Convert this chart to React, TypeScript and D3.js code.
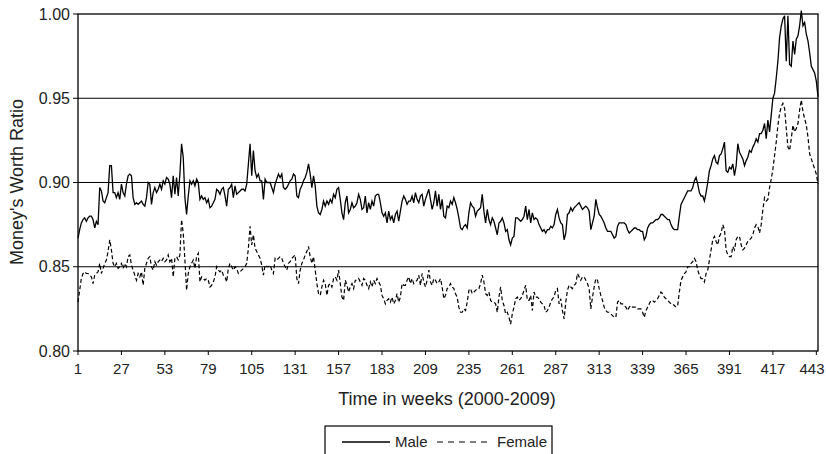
import React from 'react';
import * as d3 from 'd3';

// Money's worth ratio, weekly (weeks 1..444)
const male: number[] = [
  0.867,0.872,0.876,0.878,0.879,0.877,0.879,0.880,0.880,0.878,
  0.873,0.877,0.875,0.897,0.895,0.889,0.888,0.891,0.894,0.910,
  0.910,0.894,0.894,0.891,0.894,0.890,0.899,0.894,0.892,0.899,
  0.904,0.905,0.904,0.891,0.887,0.888,0.887,0.888,0.889,0.887,
  0.886,0.891,0.900,0.899,0.887,0.894,0.897,0.894,0.896,0.899,
  0.896,0.901,0.899,0.903,0.902,0.899,0.891,0.904,0.893,0.903,
  0.892,0.905,0.923,0.915,0.891,0.881,0.892,0.901,0.899,0.901,
  0.898,0.902,0.900,0.890,0.892,0.890,0.891,0.888,0.890,0.885,
  0.886,0.888,0.890,0.896,0.895,0.893,0.896,0.897,0.892,0.886,
  0.896,0.897,0.899,0.891,0.898,0.893,0.894,0.895,0.896,0.896,
  0.895,0.899,0.911,0.923,0.904,0.919,0.907,0.903,0.905,0.901,
  0.901,0.890,0.902,0.900,0.900,0.900,0.897,0.894,0.899,0.902,
  0.905,0.903,0.905,0.897,0.896,0.897,0.899,0.901,0.902,0.905,
  0.904,0.892,0.891,0.896,0.898,0.901,0.903,0.906,0.911,0.905,
  0.897,0.904,0.898,0.886,0.882,0.881,0.884,0.889,0.886,0.889,
  0.887,0.890,0.888,0.893,0.891,0.896,0.897,0.890,0.882,0.878,
  0.888,0.892,0.882,0.884,0.888,0.885,0.886,0.888,0.893,0.890,
  0.884,0.885,0.892,0.882,0.888,0.884,0.889,0.886,0.892,0.893,
  0.893,0.888,0.882,0.880,0.882,0.876,0.883,0.878,0.880,0.876,
  0.881,0.883,0.877,0.883,0.889,0.892,0.890,0.887,0.889,0.889,
  0.892,0.888,0.894,0.890,0.888,0.892,0.893,0.886,0.890,0.893,
  0.896,0.890,0.884,0.888,0.895,0.886,0.893,0.884,0.890,0.880,
  0.879,0.886,0.885,0.889,0.887,0.891,0.888,0.884,0.879,0.873,
  0.872,0.874,0.875,0.873,0.882,0.888,0.886,0.885,0.880,0.883,
  0.884,0.885,0.893,0.883,0.876,0.884,0.878,0.875,0.879,0.877,
  0.873,0.869,0.876,0.877,0.879,0.876,0.871,0.872,0.866,0.863,
  0.867,0.868,0.879,0.879,0.878,0.877,0.878,0.880,0.886,0.878,
  0.884,0.876,0.882,0.878,0.879,0.878,0.875,0.873,0.871,0.872,
  0.870,0.872,0.872,0.874,0.873,0.875,0.881,0.884,0.879,0.876,
  0.875,0.866,0.870,0.881,0.882,0.885,0.883,0.885,0.886,0.887,
  0.888,0.886,0.884,0.885,0.886,0.885,0.883,0.872,0.876,0.880,
  0.890,0.885,0.881,0.880,0.878,0.876,0.873,0.871,0.871,0.871,
  0.869,0.867,0.868,0.874,0.876,0.876,0.876,0.876,0.875,0.872,
  0.870,0.871,0.872,0.873,0.873,0.872,0.872,0.871,0.871,0.866,
  0.868,0.873,0.875,0.876,0.876,0.877,0.878,0.878,0.879,0.881,
  0.881,0.880,0.879,0.878,0.878,0.875,0.873,0.872,0.872,0.872,
  0.880,0.887,0.889,0.891,0.893,0.895,0.895,0.895,0.897,0.901,
  0.903,0.899,0.894,0.892,0.892,0.889,0.894,0.900,0.907,0.910,
  0.914,0.916,0.912,0.911,0.916,0.917,0.920,0.924,0.907,0.906,
  0.909,0.908,0.911,0.904,0.910,0.923,0.918,0.916,0.914,0.910,
  0.913,0.915,0.919,0.918,0.921,0.923,0.926,0.924,0.929,0.929,
  0.931,0.935,0.926,0.937,0.930,0.940,0.950,0.953,0.962,0.972,
  0.986,0.993,0.997,0.999,0.972,0.999,0.970,0.969,0.984,0.976,
  0.985,0.987,0.993,1.002,0.993,0.995,0.988,0.984,0.977,0.969,
  0.967,0.965,0.960,0.951
];

const female: number[] = [
  0.829,0.836,0.843,0.846,0.847,0.846,0.846,0.845,0.844,0.840,
  0.845,0.846,0.847,0.852,0.846,0.849,0.852,0.854,0.859,0.866,
  0.860,0.852,0.850,0.852,0.849,0.850,0.852,0.849,0.852,0.850,
  0.856,0.857,0.851,0.848,0.845,0.842,0.846,0.844,0.847,0.839,
  0.849,0.852,0.855,0.856,0.850,0.848,0.853,0.851,0.853,0.854,
  0.853,0.855,0.853,0.854,0.857,0.853,0.855,0.844,0.855,0.856,
  0.854,0.857,0.878,0.870,0.854,0.836,0.846,0.850,0.852,0.854,
  0.849,0.856,0.858,0.841,0.844,0.843,0.842,0.843,0.842,0.838,
  0.839,0.841,0.844,0.850,0.848,0.847,0.848,0.845,0.844,0.841,
  0.849,0.852,0.850,0.848,0.850,0.849,0.846,0.847,0.848,0.849,
  0.850,0.852,0.861,0.874,0.863,0.869,0.861,0.859,0.857,0.855,
  0.851,0.845,0.851,0.850,0.850,0.851,0.848,0.846,0.855,0.854,
  0.855,0.856,0.855,0.852,0.850,0.848,0.852,0.853,0.855,0.856,
  0.857,0.843,0.840,0.848,0.852,0.854,0.857,0.859,0.862,0.856,
  0.852,0.856,0.848,0.840,0.834,0.833,0.838,0.842,0.840,0.833,
  0.839,0.840,0.838,0.843,0.844,0.842,0.848,0.840,0.832,0.830,
  0.842,0.839,0.835,0.838,0.840,0.837,0.842,0.842,0.843,0.841,
  0.839,0.843,0.842,0.839,0.837,0.841,0.838,0.842,0.840,0.843,
  0.841,0.839,0.833,0.831,0.828,0.830,0.831,0.829,0.832,0.828,
  0.830,0.834,0.829,0.832,0.840,0.839,0.839,0.842,0.844,0.840,
  0.843,0.840,0.841,0.842,0.845,0.839,0.846,0.841,0.838,0.842,
  0.848,0.841,0.839,0.843,0.842,0.840,0.841,0.843,0.838,0.831,
  0.833,0.837,0.838,0.840,0.838,0.837,0.834,0.832,0.826,0.823,
  0.823,0.825,0.824,0.829,0.836,0.837,0.834,0.835,0.836,0.837,
  0.837,0.840,0.845,0.841,0.834,0.833,0.835,0.830,0.829,0.829,
  0.828,0.823,0.832,0.838,0.830,0.827,0.822,0.823,0.820,0.816,
  0.822,0.826,0.831,0.832,0.830,0.831,0.833,0.836,0.839,0.830,
  0.830,0.833,0.824,0.835,0.832,0.832,0.831,0.829,0.828,0.827,
  0.823,0.824,0.826,0.829,0.831,0.832,0.836,0.837,0.828,0.831,
  0.824,0.819,0.829,0.836,0.839,0.838,0.837,0.839,0.840,0.846,
  0.844,0.842,0.844,0.844,0.842,0.840,0.837,0.825,0.832,0.838,
  0.843,0.842,0.837,0.833,0.830,0.826,0.824,0.823,0.823,0.822,
  0.821,0.820,0.820,0.829,0.830,0.828,0.828,0.827,0.826,0.824,
  0.826,0.827,0.826,0.826,0.826,0.825,0.825,0.825,0.823,0.820,
  0.824,0.826,0.828,0.830,0.830,0.829,0.830,0.831,0.833,0.835,
  0.834,0.832,0.831,0.830,0.829,0.828,0.828,0.827,0.826,0.827,
  0.835,0.842,0.844,0.846,0.847,0.850,0.850,0.852,0.853,0.855,
  0.853,0.848,0.845,0.843,0.843,0.841,0.846,0.848,0.854,0.860,
  0.866,0.868,0.865,0.863,0.868,0.870,0.875,0.872,0.860,0.857,
  0.856,0.856,0.862,0.860,0.866,0.868,0.868,0.863,0.860,0.861,
  0.863,0.865,0.866,0.867,0.869,0.873,0.875,0.874,0.870,0.875,
  0.884,0.891,0.889,0.890,0.897,0.902,0.908,0.916,0.924,0.934,
  0.941,0.945,0.947,0.944,0.932,0.921,0.919,0.926,0.934,0.930,
  0.932,0.935,0.943,0.949,0.942,0.938,0.934,0.927,0.917,0.914,
  0.911,0.908,0.905,0.899
];

const xTickWeeks = [1, 27, 53, 79, 105, 131, 157, 183, 209, 235, 261, 287, 313, 339, 365, 391, 417, 443];
const yTickValues = [0.8, 0.85, 0.9, 0.95, 1.0];
const gridValues = [0.85, 0.9, 0.95];
const seriesNames = ['Male', 'Female'];
const xTitle = 'Time in weeks (2000-2009)';
const yTitle = "Money's Worth Ratio";

const FONT = "'Liberation Sans', Arial, Helvetica, sans-serif";

export default function App() {
  const W = 826, H = 454;
  const left = 78, right = 818, top = 14, bottom = 351;
  const x = d3.scaleLinear().domain([1, male.length]).range([left, right]);
  const y = d3.scaleLinear().domain([0.8, 1.0]).range([bottom, top]);
  const line = d3.line<number>().x((_, i) => x(i + 1)).y((d) => y(d));
  const xTickFont = 15;

  return (
    <svg width={W} height={H} style={{ position: 'absolute', left: 0, top: 0, background: '#fff' }} fontFamily={FONT}>
      <rect x={0} y={0} width={W} height={H} fill="#fff" />
      {gridValues.map((v) => (
        <line key={v} x1={left} x2={right} y1={y(v)} y2={y(v)} stroke="#000" strokeWidth={1.1} />
      ))}
      <rect x={left} y={top} width={right - left} height={bottom - top} fill="none" stroke="#000" strokeWidth={1.3} />
      {yTickValues.map((v) => (
        <g key={v}>
          <line x1={left - 5} x2={left} y1={y(v)} y2={y(v)} stroke="#000" strokeWidth={1} />
          <text x={left - 8} y={y(v)} dy="0.35em" textAnchor="end" fontSize={16} fill="#222">{v.toFixed(2)}</text>
        </g>
      ))}
      {xTickWeeks.map((w) => {
        const half = (String(w).length * 0.556 * xTickFont) / 2;
        const lx = Math.min(x(w), W - half - 1.5);
        return (
          <g key={w}>
            <line x1={x(w)} x2={x(w)} y1={bottom} y2={bottom + 4} stroke="#000" strokeWidth={1} />
            <text x={lx} y={374} textAnchor="middle" fontSize={xTickFont} fill="#222">{w}</text>
          </g>
        );
      })}
      <text x={447} y={405} textAnchor="middle" fontSize={18} fill="#222">{xTitle}</text>
      <text transform="translate(23,182) rotate(-90)" textAnchor="middle" fontSize={18} fill="#222">{yTitle}</text>
      <path d={line(female) || ''} fill="none" stroke="#000" strokeWidth={1.2} strokeDasharray="4,2.5" />
      <path d={line(male) || ''} fill="none" stroke="#000" strokeWidth={1.3} />
      <g>
        <rect x={325} y={426} width={227} height={40} fill="none" stroke="#000" strokeWidth={1.2} />
        <line x1={342} x2={390} y1={442} y2={442} stroke="#000" strokeWidth={1.3} />
        <text x={395} y={447} fontSize={15} fill="#222">{seriesNames[0]}</text>
        <line x1={437} x2={491} y1={442} y2={442} stroke="#000" strokeWidth={1.2} strokeDasharray="6,5" />
        <text x={497} y={447} fontSize={15} fill="#222">{seriesNames[1]}</text>
      </g>
    </svg>
  );
}
